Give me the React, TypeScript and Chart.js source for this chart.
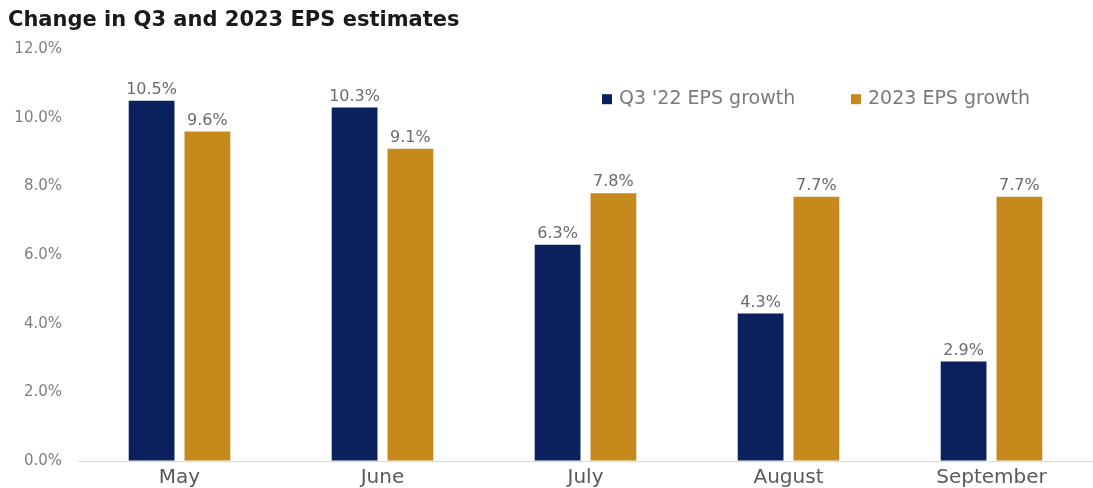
import React, { useEffect, useRef } from "react";
import { Chart, registerables } from "chart.js";

Chart.register(...registerables);

const categories = ["May", "June", "July", "August", "September"];
const q3Growth = [10.5, 10.3, 6.3, 4.3, 2.9];
const growth2023 = [9.6, 9.1, 7.8, 7.7, 7.7];
const seriesNames = ["Q3 '22 EPS growth", "2023 EPS growth"];
const yTicks = [0, 2, 4, 6, 8, 10, 12];

const NAVY = "#0b215e";
const GOLD = "#c6891b";
const FONT = "'DejaVu Sans', sans-serif";

const labelPlugin = {
  id: "valueLabels",
  afterDatasetsDraw(chart: any) {
    const ctx = chart.ctx;
    ctx.save();
    ctx.font = `16px ${FONT}`;
    ctx.fillStyle = "#6b6b6b";
    ctx.textAlign = "center";
    ctx.textBaseline = "bottom";
    chart.data.datasets.forEach((ds: any, i: number) => {
      const meta = chart.getDatasetMeta(i);
      meta.data.forEach((bar: any, j: number) => {
        ctx.fillText(ds.data[j].toFixed(1) + "%", bar.x, bar.y - 3);
      });
    });
    ctx.restore();
  },
};

const legendPlugin = {
  id: "customLegend",
  afterDraw(chart: any) {
    const ctx = chart.ctx;
    const area = chart.chartArea;
    ctx.save();
    ctx.font = `19px ${FONT}`;
    ctx.textBaseline = "middle";
    ctx.textAlign = "left";
    const y = area.top + 50;
    const starts = [area.right - 491, area.right - 242];
    chart.data.datasets.forEach((ds: any, i: number) => {
      const x = starts[i];
      ctx.fillStyle = ds.backgroundColor;
      ctx.fillRect(x, y - 5, 10, 10);
      ctx.fillStyle = "#7a7a7a";
      ctx.fillText(ds.label, x + 17, y);
    });
    ctx.restore();
  },
};

export default function App() {
  const ref = useRef<HTMLCanvasElement | null>(null);
  useEffect(() => {
    document.body.style.margin = "0";
    if (!ref.current) return;
    const chart = new Chart(ref.current, {
      type: "bar",
      data: {
        labels: categories,
        datasets: [
          { label: seriesNames[0], data: q3Growth, backgroundColor: NAVY },
          { label: seriesNames[1], data: growth2023, backgroundColor: GOLD },
        ],
      },
      options: {
        animation: false,
        responsive: false,
        layout: { padding: { left: 8, right: 0, top: 0, bottom: 0 } },
        datasets: {
          bar: { categoryPercentage: 0.55, barPercentage: 0.82 },
        },
        plugins: {
          legend: { display: false },
          tooltip: { enabled: false },
          title: {
            display: true,
            text: "Change in Q3 and 2023 EPS estimates",
            align: "start",
            color: "#1a1a1a",
            font: { family: FONT, size: 21, weight: "bold" },
            padding: { top: 8, bottom: 16 },
          },
        },
        scales: {
          x: {
            grid: { display: false, drawTicks: false },
            border: { display: false },
            afterFit(axis: any) {
              axis.height = 27;
            },
            ticks: {
              color: "#595959",
              font: { family: FONT, size: 20 },
              padding: 5,
            },
          },
          y: {
            min: 0,
            max: 12,
            afterBuildTicks(axis: any) {
              axis.ticks = yTicks.map((v) => ({ value: v }));
            },
            afterFit(axis: any) {
              axis.width = 70;
            },
            border: { display: false },
            grid: {
              drawTicks: false,
              color: (c: any) => (c.tick && c.tick.value === 0 ? "#d9d9d9" : "rgba(0,0,0,0)"),
            },
            ticks: {
              color: "#7f7f7f",
              font: { family: FONT, size: 15 },
              padding: 16,
              callback: (v: any) => Number(v).toFixed(1) + "%",
            },
          },
        },
      },
      plugins: [labelPlugin, legendPlugin],
    });
    return () => chart.destroy();
  }, []);
  return <canvas ref={ref} width={1093} height={488} style={{ display: "block" }} />;
}
